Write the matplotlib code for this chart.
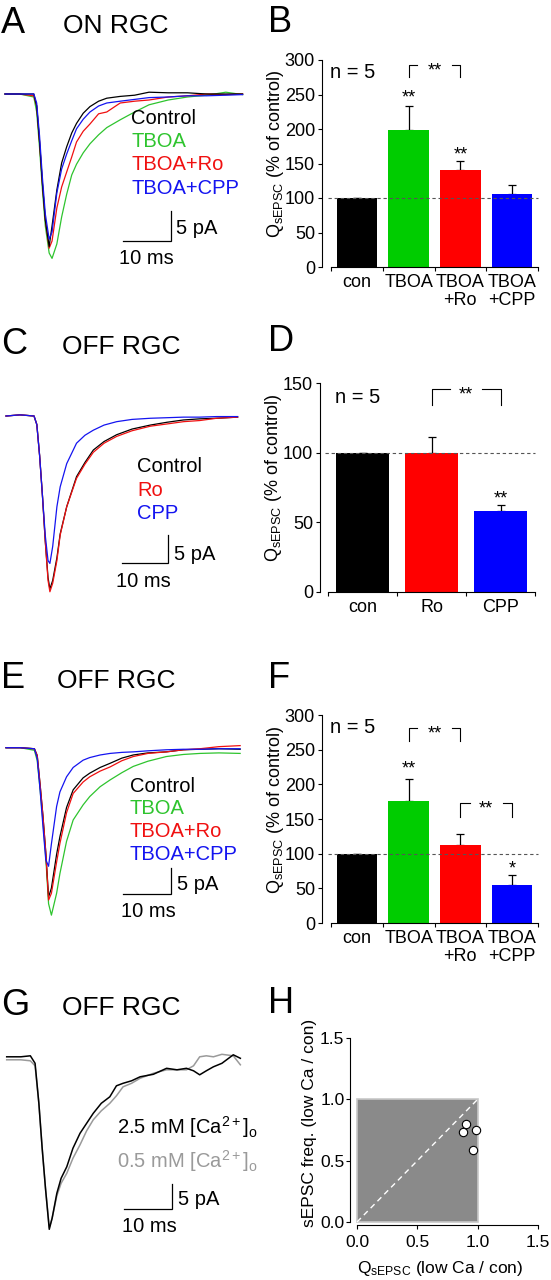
import numpy as np
import matplotlib
matplotlib.use('Agg')
import matplotlib.pyplot as plt
from matplotlib.patches import Rectangle

plt.rcParams['font.family'] = ['Liberation Sans', 'DejaVu Sans']
plt.rcParams['mathtext.fontset'] = 'custom'
plt.rcParams['mathtext.rm'] = 'Liberation Sans'
plt.rcParams['mathtext.it'] = 'Liberation Sans:italic'
plt.rcParams['mathtext.bf'] = 'Liberation Sans:bold'

# ---------------- data ----------------
# averaged sEPSC traces: time (ms), inward current amplitude (pA)
tA = [0, 3, 6.0, 6.6, 7.2, 7.8, 8.4, 9.2, 9.8, 10.8, 11.8, 12.85, 13.9, 14.9,
      16.3, 17.7, 19.5, 21.2, 24, 27, 30, 34, 38, 42, 46, 49.5]
A_control = [0, 0, 0, 2, 8, 15, 21, 25.4, 22, 16, 11.5, 8.8, 6.5, 4.9, 3.2, 2.1,
             1.2, 0.7, 0.4, 0.2, -0.3, -0.2, -0.2, 0, 0, 0]
A_tboa = [0, 0, 0.5, 3, 9, 16, 22, 26.5, 27.4, 25, 20.5, 16.7, 13.5, 11.7, 9.8,
          8.3, 6.8, 5.6, 4.3, 3.0, 1.8, 1.0, 0.5, 0.2, -0.3, 0.1]
A_ro = [0, 0, 0.3, 2, 8, 15, 21, 25.7, 24.5, 19, 15.5, 13, 10.5, 8, 6.2, 5.0,
        3.3, 3.0, 1.5, 1.2, 1.0, 0.5, 0.3, 0, 0.1, 0]
A_cpp = [0, 0, 0, 1.5, 7, 14, 20, 24.2, 23, 16.5, 12.5, 10, 7.8, 5.8, 4.2, 3.0,
         2.0, 1.5, 1.2, 0.9, 0.6, 0.5, 0.3, 0.3, 0.2, 0.1]

tC = [0, 3, 6.0, 6.6, 7.2, 7.8, 8.4, 9.0, 9.4, 10.0, 10.9, 11.6, 13.0, 15.1,
      16.9, 18.7, 21, 23.7, 27, 30.9, 34.5, 38, 41.5, 45.1, 49.6]
C_control = [0, -0.2, 0, 1.5, 7, 14, 22, 28.5, 30.5, 29, 25, 20.8, 16, 10.7,
             8.2, 6.0, 4.5, 3.3, 2.3, 1.6, 1.1, 0.7, 0.5, 0.4, 0.2]
C_ro = [0, -0.2, 0, 1.5, 7, 14, 22, 29, 31, 29.5, 25.5, 21, 16, 11, 8.5, 6.4,
        4.8, 3.6, 2.6, 1.8, 1.4, 1.0, 0.8, 0.4, 0.2]
C_cpp = [0, -0.2, 0, 1.5, 7, 14, 21, 25.5, 26, 23, 16, 12.5, 8.4, 4.8, 3.4, 2.5,
         1.6, 1.0, 0.6, 0.4, 0.3, 0.2, 0.2, 0.1, 0.1]

tE = [0, 3, 6.0, 6.6, 7.2, 7.8, 8.4, 9.0, 9.6, 10.7, 11.4, 12.8, 14.2, 16.3,
      17.7, 19.9, 22, 24.5, 26.9, 30, 33.9, 37.5, 41, 45, 49.5]
E_control = [0, 0, 0.2, 1.5, 7, 13, 20, 28.7, 27, 20.5, 17.1, 11.5, 8.1, 5.8,
             4.9, 3.8, 3.0, 2.0, 1.4, 1.0, 0.8, 0.4, 0.3, 0.2, 0.3]
E_tboa = [0, 0, 0.5, 2.5, 8, 14, 21, 30, 32.2, 28, 24.2, 18, 13.9, 11, 9.4,
          7.5, 6.2, 4.8, 3.6, 2.6, 1.7, 1.3, 1.1, 1.0, 1.1]
E_ro = [0, 0, 0.2, 1.5, 7, 13, 20, 29.3, 28, 22, 18.4, 12.5, 8.8, 6.6, 5.6,
        4.5, 3.7, 2.5, 1.7, 1.1, 0.8, 0.4, 0.2, -0.2, -0.4]
E_cpp = [0, 0, 0.2, 2, 8, 15, 21.5, 22.8, 18.5, 11.3, 8.5, 5.6, 3.8, 2.4, 1.9,
         1.4, 1.1, 0.9, 0.8, 0.6, 0.4, 0.3, 0.3, 0.2, 0.2]

tG = [0, 3, 5, 6, 6.8, 7.5, 8.2, 9.0, 9.6, 10.6, 11.5, 12.7, 14, 15.5, 16.9,
      18.3, 20, 21.8, 23.2, 24.6, 26.4, 28.2, 31, 33.8, 36, 38, 39.5, 40.8,
      42.2, 43.7, 45.5, 47.9, 49.4]
G_ca25 = [-0.3, -0.3, -0.5, 1, 9, 18, 26, 34.2, 32, 27, 24, 21.7, 18, 15, 13,
          11, 9, 7.7, 5.5, 5, 4.5, 3.7, 3.2, 2, 2.3, 2, 2.5, 3.3, 2.5, 1.7,
          1.0, -0.7, 0]
G_ca05 = [0.3, 0.3, 0.5, 1.5, 9, 18, 26, 33.8, 32, 27.5, 25, 23, 20, 17.3,
          14.5, 12.3, 10.5, 9, 7.5, 5.7, 5, 4, 3, 2.3, 2.3, 2.3, 1.5, -0.3,
          -0.5, -0.3, -0.8, -0.5, 1.3]

# charge of sEPSCs (% of control), mean and SEM
B_cats = ['con', 'TBOA', 'TBOA\n+Ro', 'TBOA\n+CPP']
B_mean = [100, 199, 140, 106]
B_sem = [0, 35, 13, 13]
D_cats = ['con', 'Ro', 'CPP']
D_mean = [100, 100, 58]
D_sem = [0, 11, 4.5]
F_cats = ['con', 'TBOA', 'TBOA\n+Ro', 'TBOA\n+CPP']
F_mean = [100, 176, 113, 55]
F_sem = [0, 32, 15, 14]

# low Ca / control ratios
H_charge = [0.88, 0.90, 0.99, 0.96]
H_freq = [0.73, 0.80, 0.75, 0.59]

GREEN, RED, BLUE = '#2ec42e', '#f01010', '#1414f0'
BAR_COLORS4 = ['#000000', '#00cc00', '#ff0000', '#0000ff']
BAR_COLORS3 = ['#000000', '#ff0000', '#0000ff']
GREY = '#9a9a9a'

W, H = 551, 1280
fig = plt.figure(figsize=(W / 100, H / 100), dpi=100)


def box(l, t, r, b):
    return [l / W, 1 - b / H, (r - l) / W, (b - t) / H]


def label(x, y, s, **kw):
    kw.setdefault('va', 'baseline')
    fig.text(x / W, 1 - y / H, s, **kw)


def trace_panel(t, traces, geo, corner, frame, lw=0.9):
    t0, base, pms, ppa = geo
    l, top, r, b = frame
    ax = fig.add_axes(box(l, top, r, b))
    ax.set_xlim((l - t0) / pms, (r - t0) / pms)
    ax.set_ylim(-(b - base) / ppa, (base - top) / ppa)
    ax.axis('off')
    for vals, c in traces:
        ax.plot(t, -np.asarray(vals), color=c, lw=lw)
    # scale bar 10 ms / 5 pA
    tc = (corner[0] - t0) / pms
    ic = -(corner[1] - base) / ppa
    ax.plot([tc - 10, tc, tc], [ic, ic, ic + 5], color='k', lw=0.9,
            solid_joinstyle='miter')
    return ax


def bar_panel(cats, means, sems, colors, geo, ystep):
    spine_x, x0, x1, zero_y, top_y, ymax = geo
    n = len(cats)
    unit = (x1 - x0) / n
    ppu = (zero_y - top_y) / ymax
    ax = fig.add_axes(box(spine_x, top_y - 20, x1 + 4, zero_y))
    ax.set_xlim(-0.5 - (x0 - spine_x) / unit, n - 0.5 + 4 / unit)
    ax.set_ylim(0, ymax + 20 / ppu)
    ax.patch.set_visible(False)
    for s in ('top', 'right'):
        ax.spines[s].set_visible(False)
    ax.spines['left'].set_bounds(0, ymax)
    ax.spines['bottom'].set_bounds(-0.5, n - 0.5)
    x = np.arange(n)
    ax.bar(x, means, width=0.78, color=colors, zorder=2)
    ax.errorbar(x, means, yerr=[np.zeros(n), sems], fmt='none', ecolor='k',
                elinewidth=0.9, capsize=3, capthick=0.9, zorder=1)
    ax.plot([-0.55, n - 0.5], [100, 100], ls=(0, (3, 2.5)), color='#555555',
            lw=0.8, zorder=3)
    ax.set_yticks(np.arange(0, ymax + 1, ystep))
    ax.set_xticks(np.arange(n + 1) - 0.5)
    ax.set_xticklabels([])
    ax.set_xticks(x, cats, minor=True)
    ax.tick_params(axis='y', length=3, width=0.8, pad=2, labelsize=13)
    ax.tick_params(axis='x', which='major', length=3, width=0.8)
    ax.tick_params(axis='x', which='minor', length=0, pad=5, labelsize=13)
    for tl in ax.get_xticklabels(minor=True):
        tl.set_linespacing(1.05)
    return ax


def stars_at(ax, x, y, s='**'):
    ax.annotate(s, (x, y), xytext=(0, -7.5), textcoords='offset points',
                ha='center', va='baseline', fontsize=13, annotation_clip=False)


def bracket(ax, i, j, ytop, ybot, half_gap, s='**'):
    xm = (i + j) / 2
    ax.plot([i, i, xm - half_gap], [ybot, ytop, ytop], color='k', lw=0.8,
            clip_on=False)
    ax.plot([xm + half_gap, j, j], [ytop, ytop, ybot], color='k', lw=0.8,
            clip_on=False)
    stars_at(ax, xm, ytop, s)


# ---------------- A ----------------
trace_panel(tA, [(A_tboa, GREEN), (A_ro, RED), (A_control, 'k'), (A_cpp, BLUE)],
            (5, 94, 4.8, 6.0), (171, 241), (0, 60, 265, 275))
label(131, 123.5, 'Control', fontsize=14.5)
label(131, 147, 'TBOA', fontsize=14.5, color=GREEN)
label(131, 170, 'TBOA+Ro', fontsize=14.5, color=RED)
label(131, 193.5, 'TBOA+CPP', fontsize=14.5, color=BLUE)
label(176.5, 233.5, '5 pA', fontsize=14.5)
label(146, 263.5, '10 ms', fontsize=14.5, ha='center')

# ---------------- C ----------------
trace_panel(tC, [(C_control, 'k'), (C_ro, RED), (C_cpp, BLUE)],
            (6, 416, 4.67, 5.67), (168.3, 563.3), (0, 390, 265, 600))
label(137, 472.5, 'Control', fontsize=14.5)
label(137, 496, 'Ro', fontsize=14.5, color=RED)
label(137, 519, 'CPP', fontsize=14.5, color=BLUE)
label(174, 560, '5 pA', fontsize=14.5)
label(143, 587, '10 ms', fontsize=14.5, ha='center')

# ---------------- E ----------------
trace_panel(tE, [(E_tboa, GREEN), (E_control, 'k'), (E_ro, RED), (E_cpp, BLUE)],
            (6, 747.7, 4.73, 5.2), (170.7, 894), (0, 720, 265, 925))
label(130, 792, 'Control', fontsize=14.5)
label(130, 814.5, 'TBOA', fontsize=14.5, color=GREEN)
label(130, 837, 'TBOA+Ro', fontsize=14.5, color=RED)
label(130, 859.5, 'TBOA+CPP', fontsize=14.5, color=BLUE)
label(177, 890, '5 pA', fontsize=14.5)
label(148, 917, '10 ms', fontsize=14.5, ha='center')

# ---------------- G ----------------
trace_panel(tG, [(G_ca05, GREY), (G_ca25, 'k')],
            (6.7, 1058.3, 4.73, 5.0), (171.7, 1209.3), (0, 1030, 265, 1250), lw=1.1)
label(117, 1134, r'2.5 mM [Ca$^{\mathregular{2+}}$]$_{\mathregular{o}}$', fontsize=14.5)
label(117, 1167.5, r'0.5 mM [Ca$^{\mathregular{2+}}$]$_{\mathregular{o}}$', fontsize=14.5,
      color=GREY)
label(178.5, 1205, '5 pA', fontsize=14.5)
label(149, 1232, '10 ms', fontsize=14.5, ha='center')

# ---------------- B ----------------
axB = bar_panel(B_cats, B_mean, B_sem, BAR_COLORS4, (322, 331, 538, 267, 60, 300), 50)
bracket(axB, 1, 2, 292.8, 275, 0.33)
stars_at(axB, 1, 254)
stars_at(axB, 2, 171)
label(330, 78, 'n = 5', fontsize=14.5)

# ---------------- D ----------------
axD = bar_panel(D_cats, D_mean, D_sem, BAR_COLORS3, (320, 328, 535, 592, 383, 150), 50)
bracket(axD, 1, 2, 145.5, 134, 0.23)
stars_at(axD, 2, 71)
label(335, 403, 'n = 5', fontsize=14.5)

# ---------------- F ----------------
axF = bar_panel(F_cats, F_mean, F_sem, BAR_COLORS4, (322, 331, 538, 923, 715, 300), 50)
bracket(axF, 1, 2, 281, 262, 0.33)
bracket(axF, 2, 3, 172.7, 152.5, 0.32)
stars_at(axF, 1, 230)
stars_at(axF, 3, 86.6, '*')
label(330, 733, 'n = 5', fontsize=14.5)

ylab = r'Q$_{\mathregular{sEPSC}}$ (% of control)'
for xb, yc in ((280, 154), (277.5, 478), (280, 810)):
    label(xb, yc, ylab, fontsize=13, rotation=90, rotation_mode='anchor',
          ha='center')

# ---------------- H ----------------
axH = fig.add_axes(box(350, 1030, 548, 1225))
axH.set_xlim(-7 / 120.7, (548 - 357) / 120.7)
axH.set_ylim(-3 / 122.7, (1222 - 1030) / 122.7)
axH.patch.set_visible(False)
for s in ('top', 'right'):
    axH.spines[s].set_visible(False)
axH.spines['left'].set_bounds(0, 1.5)
axH.spines['bottom'].set_bounds(0, 1.5)
axH.add_patch(Rectangle((0, 0), 1, 1, facecolor='#8a8a8a', edgecolor='#c8c8c8',
                        lw=1.2, zorder=1))
axH.plot([0, 1], [0, 1], ls=(0, (4, 3)), color='white', lw=1, zorder=2)
axH.plot(H_charge, H_freq, 'o', mfc='white', mec='k', ms=6, mew=0.8, zorder=3)
ticks = [0, 0.5, 1.0, 1.5]
axH.set_xticks(ticks, ['%.1f' % v for v in ticks])
axH.set_yticks(ticks, ['%.1f' % v for v in ticks])
axH.tick_params(axis='both', length=3, width=0.8, labelsize=12.5)
axH.tick_params(axis='y', pad=1)
axH.tick_params(axis='x', pad=4)
label(440, 1273, r'Q$_{\mathregular{sEPSC}}$ (low Ca / con)', fontsize=12.5, ha='center')
label(314, 1123, 'sEPSC freq. (low Ca / con)', fontsize=12.5, rotation=90,
      rotation_mode='anchor', ha='center')

# ---------------- panel letters ----------------
for x, y, s in [(1, 33, 'A'), (268, 32, 'B'), (1, 354, 'C'), (268, 351, 'D'),
                (1, 688, 'E'), (268, 688, 'F'), (1, 1015, 'G'), (268, 1013, 'H')]:
    label(x, y, s, fontsize=26)
for x, y, s in [(63, 33, 'ON RGC'), (62, 354, 'OFF RGC'), (57, 688, 'OFF RGC'),
                (62, 1015, 'OFF RGC')]:
    label(x, y, s, fontsize=19)

fig.savefig('out.png', dpi=100)
